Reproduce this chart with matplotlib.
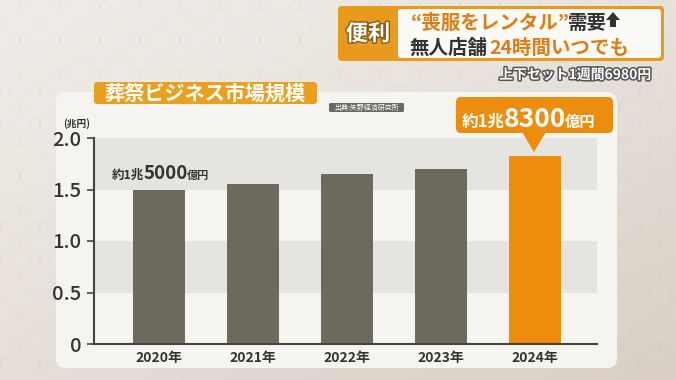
import numpy as np
import matplotlib
matplotlib.use("Agg")
import matplotlib.pyplot as plt
from matplotlib.patches import FancyBboxPatch, Polygon, Circle
import matplotlib.patheffects as pe

plt.rcParams['font.family'] = ['Noto Sans CJK JP', 'DejaVu Sans']

# ---- data ----
years = ["2020年", "2021年", "2022年", "2023年", "2024年"]
values = [1.50, 1.55, 1.65, 1.70, 1.83]
ytick_vals = [0, 0.5, 1.0, 1.5, 2.0]
ytick_labels = ["0", "0.5", "1.0", "1.5", "2.0"]
title = "葬祭ビジネス市場規模"
source = "出典:矢野経済研究所"
unit = "(兆円)"

W, H = 676, 380
fig = plt.figure(figsize=(W / 100, H / 100), dpi=100)

bg = fig.add_axes([0, 0, 1, 1], zorder=0)
bg.set_xlim(0, W); bg.set_ylim(H, 0); bg.axis('off')

gx = np.linspace(0, 1, 200)
gy = np.linspace(0, 1, 120)
GX, GY = np.meshgrid(gx, gy)
t = np.clip(0.45 * GX + 0.55 * GY, 0, 1) ** 1.3
c1 = np.array([0.94, 0.93, 0.91])
c2 = np.array([0.85, 0.81, 0.77])
img = c1[None, None, :] * (1 - t[..., None]) + c2[None, None, :] * t[..., None]
bg.imshow(img, extent=[0, W, H, 0], aspect='auto', zorder=0)

for r, yy in enumerate(np.arange(6, H, 17)):
    off = 20 if r % 2 else 0
    for xx in np.arange(-20 + off, W + 20, 40):
        for dx in (-5, 5):
            bg.add_patch(Circle((xx + dx, yy), 5.5, fill=False, lw=0.5,
                                ec=(0.78, 0.73, 0.68, 0.18), zorder=1))

card = FancyBboxPatch((56, 92), 561, 276, boxstyle="round,pad=0,rounding_size=10",
                      fc="#f5f4f0", ec="none", zorder=2)
bg.add_patch(card)

L, R, B, T = 94, 597, 344, 138
ax = fig.add_axes([L / W, (H - B) / H, (R - L) / W, (B - T) / H], zorder=2)
ax.patch.set_alpha(0)
x = np.arange(len(years))
ax.set_xlim((L - 159) / 94, (R - 159) / 94)
ax.set_ylim(0, 2.0)
ax.axhspan(1.5, 2.0, color="#e5e4e0", zorder=0, lw=0)
ax.axhspan(0.5, 1.0, color="#e5e4e0", zorder=0, lw=0)
colors = ["#6b6a5c"] * 4 + ["#ec8d0e"]
ax.bar(x, values, width=0.555, color=colors, zorder=2)
for s in ["top", "right"]:
    ax.spines[s].set_visible(False)
for s in ["left", "bottom"]:
    ax.spines[s].set_color("#444444")
    ax.spines[s].set_linewidth(1.5)
ax.set_yticks(ytick_vals)
ax.set_yticklabels(ytick_labels, fontsize=14.5, color="#333333", fontweight="medium")
ax.set_xticks(x)
ax.set_xticklabels(years, fontsize=10, color="#333333", fontweight="bold")
ax.tick_params(axis='y', length=5, width=1.2, color="#444444", pad=4)
ax.tick_params(axis='x', length=0, pad=5)

ov = fig.add_axes([0, 0, 1, 1], zorder=5)
ov.set_xlim(0, W); ov.set_ylim(H, 0); ov.axis('off')
ov.patch.set_alpha(0)
renderer = fig.canvas.get_renderer()

def txt(xp, yp, s, **kw):
    kw.setdefault('va', 'baseline')
    kw.setdefault('ha', 'left')
    return ov.text(xp, yp, s, **kw)

def chain(xp, yp, pieces, gap=0.0):
    for s, kw in pieces:
        tt = txt(xp, yp, s, **kw)
        bb = tt.get_window_extent(renderer=renderer)
        xp += bb.width + gap
    return xp

ov.add_patch(FancyBboxPatch((94, 82), 223, 22, boxstyle="round,pad=0,rounding_size=3",
                            fc="#e9a020", ec="none"))
txt(205, 93, title, ha='center', va='center', fontsize=14.5, color="white", fontweight='bold')
ov.add_patch(FancyBboxPatch((329, 103), 75, 9, boxstyle="round,pad=0,rounding_size=1.5",
                            fc="#6a6a64", ec="none"))
txt(366.5, 107.5, source, ha='center', va='center', fontsize=5, color="white")
txt(63, 127, unit, fontsize=7, color="#333333", fontweight='bold')

chain(112, 179, [("約1兆", dict(fontsize=9, color="#333333", fontweight='bold')),
                 ("5000", dict(fontsize=13.5, color="#333333", fontweight='bold')),
                 ("億円", dict(fontsize=8, color="#333333", fontweight='bold'))], gap=-1)

ov.add_patch(FancyBboxPatch((456, 97), 157, 36, boxstyle="round,pad=0,rounding_size=5",
                            fc="#ec8d0e", ec="none"))
ov.add_patch(Polygon([[522, 132], [546, 132], [534, 152]], closed=True, fc="#ec8d0e", ec="none"))
chain(462, 127, [("約1兆", dict(fontsize=12, color="white", fontweight='bold')),
                 ("8300", dict(fontsize=19, color="white", fontweight='bold')),
                 ("億円", dict(fontsize=11, color="white", fontweight='bold'))], gap=-1)

ov.add_patch(FancyBboxPatch((338, 6), 326, 55, boxstyle="round,pad=0,rounding_size=4",
                            fc="#e79a1d", ec="none"))
ov.add_patch(FancyBboxPatch((398, 9), 263, 49, boxstyle="round,pad=0,rounding_size=3",
                            fc="#fbfaf6", ec="none"))
shadow = [pe.withStroke(linewidth=2.0, foreground="#8a5a10")]
txt(368, 34, "便利", ha='center', va='center', fontsize=16, color="white",
    fontweight='bold', path_effects=shadow)
orange = "#e07c12"
dark = "#333333"
xe = chain(411, 29, [("“喪服をレンタル”", dict(fontsize=14, color=orange, fontweight='bold')),
                     ("需要", dict(fontsize=14, color=dark, fontweight='bold'))], gap=-2)
ax0 = xe + 1
ov.add_patch(Polygon([[ax0 + 7, 12], [ax0, 20], [ax0 + 4, 20], [ax0 + 4, 27], [ax0 + 10, 27],
                      [ax0 + 10, 20], [ax0 + 14, 20]], closed=True, fc=dark, ec="none"))
chain(409, 54, [("無人店舗", dict(fontsize=14, color=dark, fontweight='bold')),
                ("24時間いつでも", dict(fontsize=14, color=orange, fontweight='bold'))], gap=2)

txt(651, 79, "上下セット1週間6980円", ha='right', fontsize=10, color="white", fontweight='bold',
    path_effects=[pe.withStroke(linewidth=2.2, foreground="#555555")])

fig.savefig("out.png", dpi=100)
